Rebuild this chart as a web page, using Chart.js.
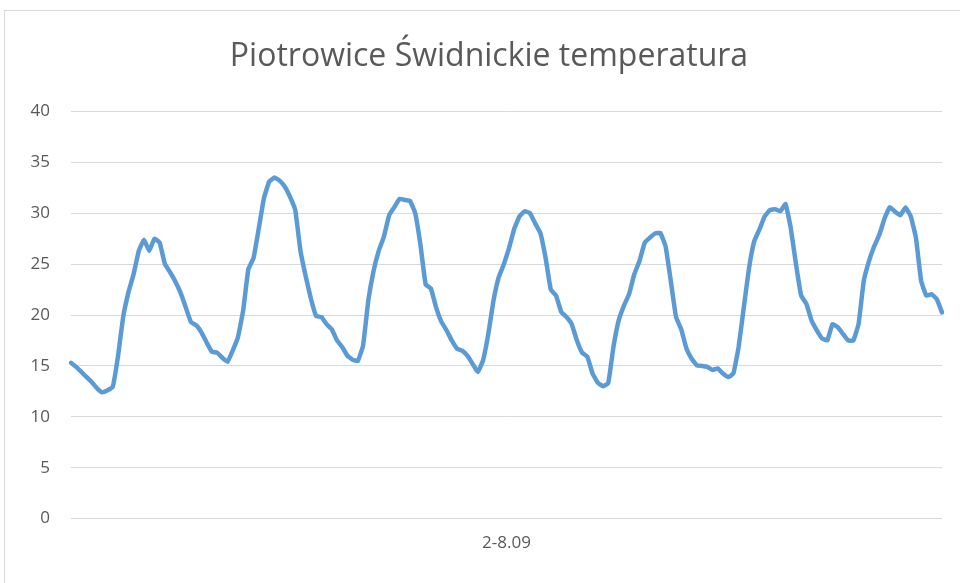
<!DOCTYPE html>
<html>
<head>
<meta charset="utf-8">
<script src="https://cdn.jsdelivr.net/npm/chart.js@4"></script>
<style>
  html, body { margin: 0; padding: 0; background: #fff; overflow: hidden; }
  #wrap { position: relative; width: 960px; height: 583px; }
  #frame { position: absolute; left: 4px; top: 10px; width: 1000px; height: 1000px; border: 1px solid #d9d9d9; box-sizing: border-box; }
  canvas { position: absolute; left: 0; top: 0; }
</style>
</head>
<body>
<div id="wrap">
  <div id="frame"></div>
  <canvas id="c" width="960" height="583"></canvas>
</div>
<script>
// Hourly temperatures, 2-8 Sept (168 hours)
const title = "Piotrowice Świdnickie temperatura";
const periodLabel = "2-8.09";
const day1 = [15.3,14.9,14.4,13.9,13.4,12.8,12.4,12.6,12.95,15.9,19.8,22.2,24.0,26.3,27.4,26.3,27.5,27.1,25.0,24.2,23.3,22.2,20.75,19.3];
const day2 = [19.0,18.3,17.3,16.4,16.3,15.8,15.4,16.5,17.8,20.4,24.5,25.6,28.5,31.5,33.1,33.5,33.2,32.6,31.6,30.3,26.3,23.8,21.6,19.9];
const day3 = [19.8,19.1,18.6,17.5,16.85,16.0,15.6,15.5,17.0,21.4,24.3,26.3,27.7,29.8,30.6,31.4,31.3,31.2,30.0,26.9,23.0,22.6,20.75,19.35];
const day4 = [18.5,17.5,16.7,16.5,16.0,15.2,14.4,15.55,18.1,21.4,23.7,25.0,26.6,28.5,29.7,30.2,30.0,29.0,28.05,25.6,22.5,21.9,20.3,19.8];
const day5 = [19.1,17.5,16.3,15.9,14.25,13.35,13.0,13.3,16.85,19.45,20.9,22.05,24.0,25.3,27.1,27.6,28.0,28.05,26.75,23.35,19.8,18.6,16.7,15.7];
const day6 = [15.05,15.0,14.9,14.6,14.75,14.25,13.9,14.25,16.85,20.75,24.6,27.25,28.4,29.7,30.3,30.4,30.2,30.9,28.55,25.0,21.9,21.1,19.45,18.5];
const day7 = [17.7,17.5,19.1,18.8,18.15,17.5,17.5,19.1,23.35,25.3,26.75,27.9,29.5,30.6,30.15,29.8,30.55,29.7,27.6,23.35,21.9,22.05,21.55,20.25];
const temps = [].concat(day1, day2, day3, day4, day5, day6, day7);
const hours = temps.map((_, i) => "h" + i);
const yTicks = [0, 5, 10, 15, 20, 25, 30, 35, 40];

const grey = "#595959";

// shift the title block so it is centred like the reference
const titleShift = {
  id: "titleShift",
  afterLayout(chart) {
    if (chart.titleBlock) { chart.titleBlock.left = 36; }
  }
};

new Chart(document.getElementById("c"), {
  type: "line",
  data: {
    labels: hours,
    datasets: [{
      data: temps,
      borderColor: "#5b9bd5",
      borderWidth: 4.5,
      pointRadius: 0,
      tension: 0.1,
      borderJoinStyle: "round",
      borderCapStyle: "round",
      fill: false
    }]
  },
  plugins: [titleShift],
  options: {
    responsive: false,
    animation: false,
    layout: { padding: { left: 0, right: 18, top: 29, bottom: 30 } },
    plugins: {
      legend: { display: false },
      tooltip: { enabled: false },
      title: {
        display: true,
        text: title,
        color: grey,
        font: { family: "'Open Sans'", size: 32, weight: "normal" },
        padding: { top: 9, bottom: 35 }
      }
    },
    scales: {
      x: {
        type: "category",
        offset: false,
        grid: { display: false, drawTicks: false },
        border: { display: false },
        ticks: { display: false },
        title: {
          display: true,
          text: periodLabel,
          color: grey,
          font: { family: "'Open Sans'", size: 17 },
          padding: { top: 14, bottom: 0 }
        }
      },
      y: {
        min: 0,
        max: 40,
        afterFit: (s) => { s.width = 71; },
        afterBuildTicks: (s) => { s.ticks = yTicks.map(v => ({ value: v })); },
        grid: { color: "#d9d9d9", lineWidth: 1, drawTicks: false },
        border: { display: false },
        ticks: {
          color: grey,
          padding: 21,
          font: { family: "'Open Sans'", size: 17 }
        }
      }
    }
  }
});
</script>
</body>
</html>
